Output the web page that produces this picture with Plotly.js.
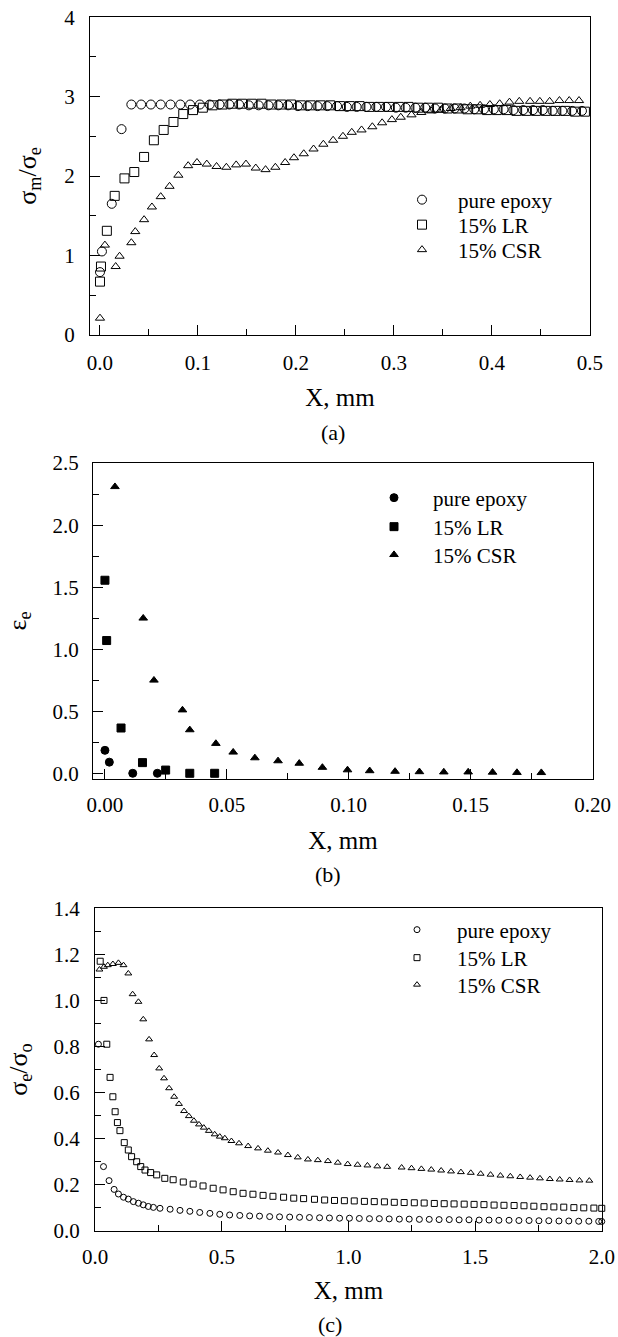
<!DOCTYPE html>
<html><head><meta charset="utf-8">
<script src="https://cdn.plot.ly/plotly-3.0.1.min.js"></script>
<style>html,body{margin:0;padding:0;background:#fff;} #chart{width:618px;height:1337px;}</style>
</head><body><div id="chart"></div>
<script>
// ---------- data: panel (a) sigma_m / sigma_e ----------
const seriesNames = ['pure epoxy', '15% LR', '15% CSR'];

const a_epoxy_x = [0, 0.002, 0.012, 0.022, 0.032, 0.042, 0.052, 0.062, 0.072, 0.082, 0.092, 0.102,
  0.112, 0.122, 0.132, 0.142, 0.152, 0.162, 0.172, 0.182, 0.192, 0.202,
  0.212, 0.222, 0.232, 0.242, 0.252, 0.262, 0.272, 0.282, 0.292, 0.302,
  0.312, 0.322, 0.332, 0.342, 0.352, 0.362, 0.372, 0.382, 0.392, 0.402,
  0.412, 0.422, 0.432, 0.442, 0.452, 0.462, 0.472, 0.482, 0.492];
const a_epoxy_y = [0.79, 1.05, 1.65, 2.59, 2.90, 2.90, 2.90, 2.90, 2.90, 2.90, 2.90, 2.90,
  2.90, 2.90, 2.90, 2.90, 2.89, 2.89, 2.89, 2.89, 2.89, 2.88,
  2.88, 2.88, 2.88, 2.88, 2.87, 2.87, 2.87, 2.87, 2.87, 2.86,
  2.86, 2.86, 2.86, 2.85, 2.85, 2.85, 2.85, 2.84, 2.84, 2.84,
  2.84, 2.83, 2.83, 2.83, 2.83, 2.82, 2.82, 2.82, 2.82];

const a_lr_x = [0, 0.001, 0.007, 0.015, 0.025, 0.035, 0.045, 0.055, 0.065, 0.075, 0.085, 0.095,
  0.105, 0.115, 0.125, 0.135, 0.145, 0.155, 0.165, 0.175, 0.185, 0.195,
  0.205, 0.215, 0.225, 0.235, 0.245, 0.255, 0.265, 0.275, 0.285, 0.295,
  0.305, 0.315, 0.325, 0.335, 0.345, 0.355, 0.365, 0.375, 0.385, 0.395,
  0.405, 0.415, 0.425, 0.435, 0.445, 0.455, 0.465, 0.475, 0.485, 0.495];
const a_lr_y = [0.67, 0.86, 1.31, 1.75, 1.97, 2.05, 2.24, 2.45, 2.58, 2.68, 2.78, 2.83,
  2.86, 2.89, 2.90, 2.91, 2.91, 2.91, 2.91, 2.90, 2.90, 2.90,
  2.89, 2.89, 2.89, 2.89, 2.88, 2.88, 2.88, 2.87, 2.87, 2.87,
  2.87, 2.87, 2.86, 2.86, 2.86, 2.85, 2.85, 2.84, 2.84, 2.83,
  2.83, 2.83, 2.82, 2.82, 2.82, 2.82, 2.82, 2.82, 2.81, 2.81];

const a_csr_x = [0, 0.005, 0.016, 0.020, 0.032, 0.036, 0.045, 0.053, 0.062, 0.071, 0.080, 0.090,
  0.099, 0.109, 0.119, 0.129, 0.139, 0.149, 0.159, 0.169, 0.179, 0.189,
  0.198, 0.208, 0.218, 0.228, 0.238, 0.248, 0.257, 0.267, 0.278, 0.288,
  0.298, 0.307, 0.318, 0.328, 0.338, 0.348, 0.358, 0.368, 0.378, 0.388,
  0.398, 0.408, 0.418, 0.428, 0.439, 0.449, 0.459, 0.469, 0.479, 0.489];
const a_csr_y = [0.21, 1.13, 0.86, 0.99, 1.16, 1.30, 1.45, 1.61, 1.74, 1.87, 2.01, 2.13,
  2.17, 2.15, 2.12, 2.11, 2.14, 2.15, 2.10, 2.08, 2.11, 2.17,
  2.23, 2.28, 2.34, 2.40, 2.45, 2.50, 2.55, 2.58, 2.62, 2.67,
  2.71, 2.74, 2.77, 2.80, 2.82, 2.83, 2.85, 2.86, 2.88, 2.89,
  2.90, 2.91, 2.93, 2.94, 2.94, 2.94, 2.94, 2.95, 2.95, 2.95];

// ---------- data: panel (b) epsilon_e ----------
const b_epoxy_x = [0, 0.0018, 0.0114, 0.0215];
const b_epoxy_y = [0.185, 0.09, 0.0, 0.0];
const b_lr_x = [0, 0.0007, 0.0066, 0.0154, 0.0249, 0.0348, 0.045];
const b_lr_y = [1.556, 1.07, 0.365, 0.086, 0.026, 0.0, 0.0];
const b_csr_x = [0.0041, 0.0157, 0.0201, 0.0318, 0.0348, 0.0455, 0.0526, 0.0615, 0.071, 0.0797,
  0.0892, 0.0995, 0.1086, 0.119, 0.129, 0.139, 0.149, 0.159, 0.169, 0.179];
const b_csr_y = [2.31, 1.25, 0.75, 0.51, 0.35, 0.24, 0.17, 0.124, 0.10, 0.08,
  0.047, 0.027, 0.02, 0.015, 0.012, 0.01, 0.01, 0.008, 0.006, 0.005];

// ---------- data: panel (c) sigma_e / sigma_o ----------
const c_epoxy_x = [0.013, 0.033, 0.055, 0.075, 0.092, 0.112, 0.131, 0.151, 0.171, 0.19, 0.21, 0.23,
  0.256, 0.296, 0.335, 0.374, 0.413, 0.453, 0.492, 0.531, 0.571, 0.61, 0.649, 0.689, 0.728, 0.768,
  0.807, 0.846, 0.886, 0.925, 0.965, 1.004, 1.043, 1.083, 1.122, 1.161, 1.201, 1.24, 1.28, 1.319,
  1.358, 1.398, 1.437, 1.476, 1.516, 1.555, 1.594, 1.634, 1.673, 1.713, 1.752, 1.791, 1.831, 1.87,
  1.909, 1.949, 1.988, 2.0];
const c_epoxy_y = [0.81, 0.279, 0.218, 0.18, 0.16, 0.146, 0.138, 0.127, 0.12, 0.113, 0.106, 0.102,
  0.098, 0.094, 0.089, 0.085, 0.08, 0.076, 0.072, 0.069, 0.067, 0.065, 0.064, 0.062, 0.061, 0.06,
  0.059, 0.058, 0.057, 0.056, 0.055, 0.055, 0.054, 0.053, 0.053, 0.052, 0.051, 0.051, 0.05, 0.05,
  0.049, 0.049, 0.048, 0.048, 0.047, 0.047, 0.046, 0.046, 0.045, 0.045, 0.044, 0.044, 0.043, 0.043,
  0.042, 0.042, 0.041, 0.041];

const c_lr_x = [0.02, 0.035, 0.046, 0.059, 0.07, 0.079, 0.088, 0.098, 0.115, 0.131, 0.144, 0.164,
  0.18, 0.197, 0.219, 0.243, 0.275, 0.308, 0.348, 0.387, 0.426, 0.466, 0.505, 0.545, 0.584, 0.623,
  0.663, 0.702, 0.744, 0.784, 0.823, 0.866, 0.906, 0.945, 0.984, 1.023, 1.063, 1.102, 1.142, 1.181,
  1.22, 1.26, 1.299, 1.339, 1.378, 1.417, 1.457, 1.496, 1.535, 1.575, 1.614, 1.654, 1.693, 1.732,
  1.772, 1.811, 1.85, 1.89, 1.929, 1.969, 2.0];
const c_lr_y = [1.17, 1.0, 0.81, 0.666, 0.582, 0.517, 0.47, 0.435, 0.383, 0.351, 0.322, 0.3,
  0.279, 0.264, 0.253, 0.243, 0.228, 0.222, 0.212, 0.203, 0.195, 0.185, 0.178, 0.17, 0.163, 0.159,
  0.154, 0.15, 0.146, 0.142, 0.14, 0.137, 0.134, 0.132, 0.131, 0.13, 0.128, 0.127, 0.126, 0.124,
  0.123, 0.122, 0.121, 0.119, 0.118, 0.117, 0.116, 0.115, 0.114, 0.112, 0.111, 0.11, 0.109, 0.107,
  0.105, 0.104, 0.103, 0.101, 0.1, 0.099, 0.098];

const c_csr_x = [0.017, 0.035, 0.05, 0.07, 0.092, 0.112, 0.131, 0.148, 0.171, 0.19, 0.213, 0.233,
  0.253, 0.272, 0.292, 0.312, 0.331, 0.351, 0.37, 0.39, 0.41, 0.429, 0.449, 0.472, 0.492, 0.512,
  0.538, 0.568, 0.604, 0.643, 0.682, 0.722, 0.761, 0.8, 0.84, 0.879, 0.919, 0.958, 0.997, 1.036,
  1.075, 1.114, 1.153, 1.21, 1.249, 1.288, 1.327, 1.366, 1.405, 1.444, 1.483, 1.522, 1.561, 1.6,
  1.639, 1.678, 1.717, 1.756, 1.795, 1.834, 1.873, 1.912, 1.951];
const c_csr_y = [1.134, 1.146, 1.153, 1.158, 1.163, 1.153, 1.117, 1.027, 0.994, 0.918, 0.831, 0.763,
  0.705, 0.662, 0.619, 0.582, 0.551, 0.52, 0.498, 0.478, 0.462, 0.448, 0.434, 0.419, 0.409, 0.402,
  0.39, 0.38, 0.368, 0.358, 0.348, 0.34, 0.329, 0.319, 0.31, 0.307, 0.303, 0.296, 0.29, 0.287,
  0.284, 0.28, 0.278, 0.275, 0.272, 0.269, 0.266, 0.262, 0.258, 0.255, 0.252, 0.248, 0.244, 0.24,
  0.237, 0.234, 0.231, 0.228, 0.225, 0.223, 0.221, 0.219, 0.218];

// ---------- layout helpers ----------
const FONT = 'Liberation Serif, Times New Roman, serif';
const W = 618, H = 1337;
const fx = p => p / W;
const fy = p => 1 - p / H;

function mk(x, y, name, symbol, size, xa, ya, legend) {
  return {
    type: 'scatter', mode: 'markers', x, y, name, xaxis: xa, yaxis: ya,
    legend, showlegend: true, cliponaxis: false,
    marker: {symbol, size, color: '#000', line: {color: '#000', width: 1}}
  };
}

const traces = [
  mk(a_epoxy_x, a_epoxy_y, seriesNames[0], 'circle-open', 9, 'x', 'y', 'legend'),
  mk(a_lr_x, a_lr_y, seriesNames[1], 'square-open', 9, 'x', 'y', 'legend2'),
  mk(a_csr_x, a_csr_y, seriesNames[2], 'triangle-up-open', 8, 'x', 'y', 'legend3'),
  mk(b_epoxy_x, b_epoxy_y, seriesNames[0], 'circle', 8, 'x2', 'y2', 'legend4'),
  mk(b_lr_x, b_lr_y, seriesNames[1], 'square', 8, 'x2', 'y2', 'legend5'),
  mk(b_csr_x, b_csr_y, seriesNames[2], 'triangle-up', 7.5, 'x2', 'y2', 'legend6'),
  mk(c_epoxy_x, c_epoxy_y, seriesNames[0], 'circle-open', 6, 'x3', 'y3', 'legend7'),
  mk(c_lr_x, c_lr_y, seriesNames[1], 'square-open', 6, 'x3', 'y3', 'legend8'),
  mk(c_csr_x, c_csr_y, seriesNames[2], 'triangle-up-open', 6, 'x3', 'y3', 'legend9')
];

function axis(o) {
  return Object.assign({
    ticks: 'inside', ticklen: 10, tickwidth: 1, tickcolor: '#000',
    showline: true, linecolor: '#000', linewidth: 1, mirror: true,
    showgrid: false, zeroline: false, fixedrange: true, tick0: 0,
    tickfont: {family: FONT, size: 21, color: '#000'}
  }, o);
}
const minor = d => ({ticks: 'inside', ticklen: 6, tickwidth: 1, tickcolor: '#000', dtick: d, tick0: 0, showgrid: false});
const xTitle = (standoff) => ({text: 'X, mm', font: {family: FONT, size: 25, color: '#000'}, standoff});
const yTitle = (t, standoff) => ({text: t, font: {family: FONT, size: 26, color: '#000'}, standoff});

// one legend entry per legend box, so each row can sit where the reference puts it
function legendAt(symX, rowY, gap) {
  const iw = 2 * (gap - 5);
  return {x: fx(symX - gap), y: fy(rowY), xanchor: 'left', yanchor: 'middle',
    font: {family: FONT, size: 21, color: '#000'}, bgcolor: 'rgba(0,0,0,0)',
    borderwidth: 0, itemwidth: iw, tracegroupgap: 0};
}

const layout = {
  width: W, height: H, paper_bgcolor: '#fff', plot_bgcolor: '#fff',
  margin: {l: 0, r: 0, t: 0, b: 0}, showlegend: true,
  font: {family: FONT, color: '#000'},
  xaxis: axis({domain: [fx(90), fx(590)], range: [-0.0102, 0.5002], dtick: 0.1, tickformat: '.1f',
    minor: minor(0.05), ticklabelstandoff: 9, anchor: 'y', title: xTitle(14)}),
  yaxis: axis({domain: [fy(335), fy(17)], range: [-0.002, 4.002], dtick: 1, tickformat: 'd',
    minor: minor(0.5), ticklabelstandoff: 10, anchor: 'x', title: yTitle('σ<sub>m</sub>/σ<sub>e</sub>', 20)}),
  xaxis2: axis({domain: [fx(93), fx(593)], range: [-0.0049, 0.2002], dtick: 0.05, tickformat: '.2f',
    minor: minor(0.025), ticklabelstandoff: 7, anchor: 'y2', title: xTitle(15)}),
  yaxis2: axis({domain: [fy(779), fy(463)], range: [-0.046, 2.501], dtick: 0.5, tickformat: '.1f',
    minor: minor(0.25), ticklabelstandoff: 9, anchor: 'x2', title: yTitle('ε<sub>e</sub>', 18)}),
  xaxis3: axis({domain: [fx(95), fx(602)], range: [-0.0005, 2.001], dtick: 0.5, tickformat: '.1f',
    minor: minor(0.25), ticklabelstandoff: 7, anchor: 'y3', title: xTitle(13)}),
  yaxis3: axis({domain: [fy(1231), fy(908)], range: [-0.0005, 1.401], dtick: 0.2, tickformat: '.1f',
    minor: minor(0.1), ticklabelstandoff: 10, anchor: 'x3', title: yTitle('σ<sub>e</sub>/σ<sub>o</sub>', 18)}),
  legend: legendAt(422, 200, 36),
  legend2: legendAt(422, 225, 36),
  legend3: legendAt(422, 250, 36),
  legend4: legendAt(394, 498, 39),
  legend5: legendAt(394, 527, 39),
  legend6: legendAt(394, 555, 39),
  legend7: legendAt(417, 930, 40),
  legend8: legendAt(417, 958, 40),
  legend9: legendAt(417, 985, 40),
  annotations: [
    {text: '(a)', x: fx(333), y: fy(432), xref: 'paper', yref: 'paper', showarrow: false,
      xanchor: 'center', yanchor: 'middle', font: {family: FONT, size: 22, color: '#000'}},
    {text: '(b)', x: fx(328), y: fy(874), xref: 'paper', yref: 'paper', showarrow: false,
      xanchor: 'center', yanchor: 'middle', font: {family: FONT, size: 22, color: '#000'}},
    {text: '(c)', x: fx(330), y: fy(1324), xref: 'paper', yref: 'paper', showarrow: false,
      xanchor: 'center', yanchor: 'middle', font: {family: FONT, size: 22, color: '#000'}}
  ]
};

Plotly.newPlot('chart', traces, layout, {displayModeBar: false, staticPlot: true});
</script>
</body></html>
